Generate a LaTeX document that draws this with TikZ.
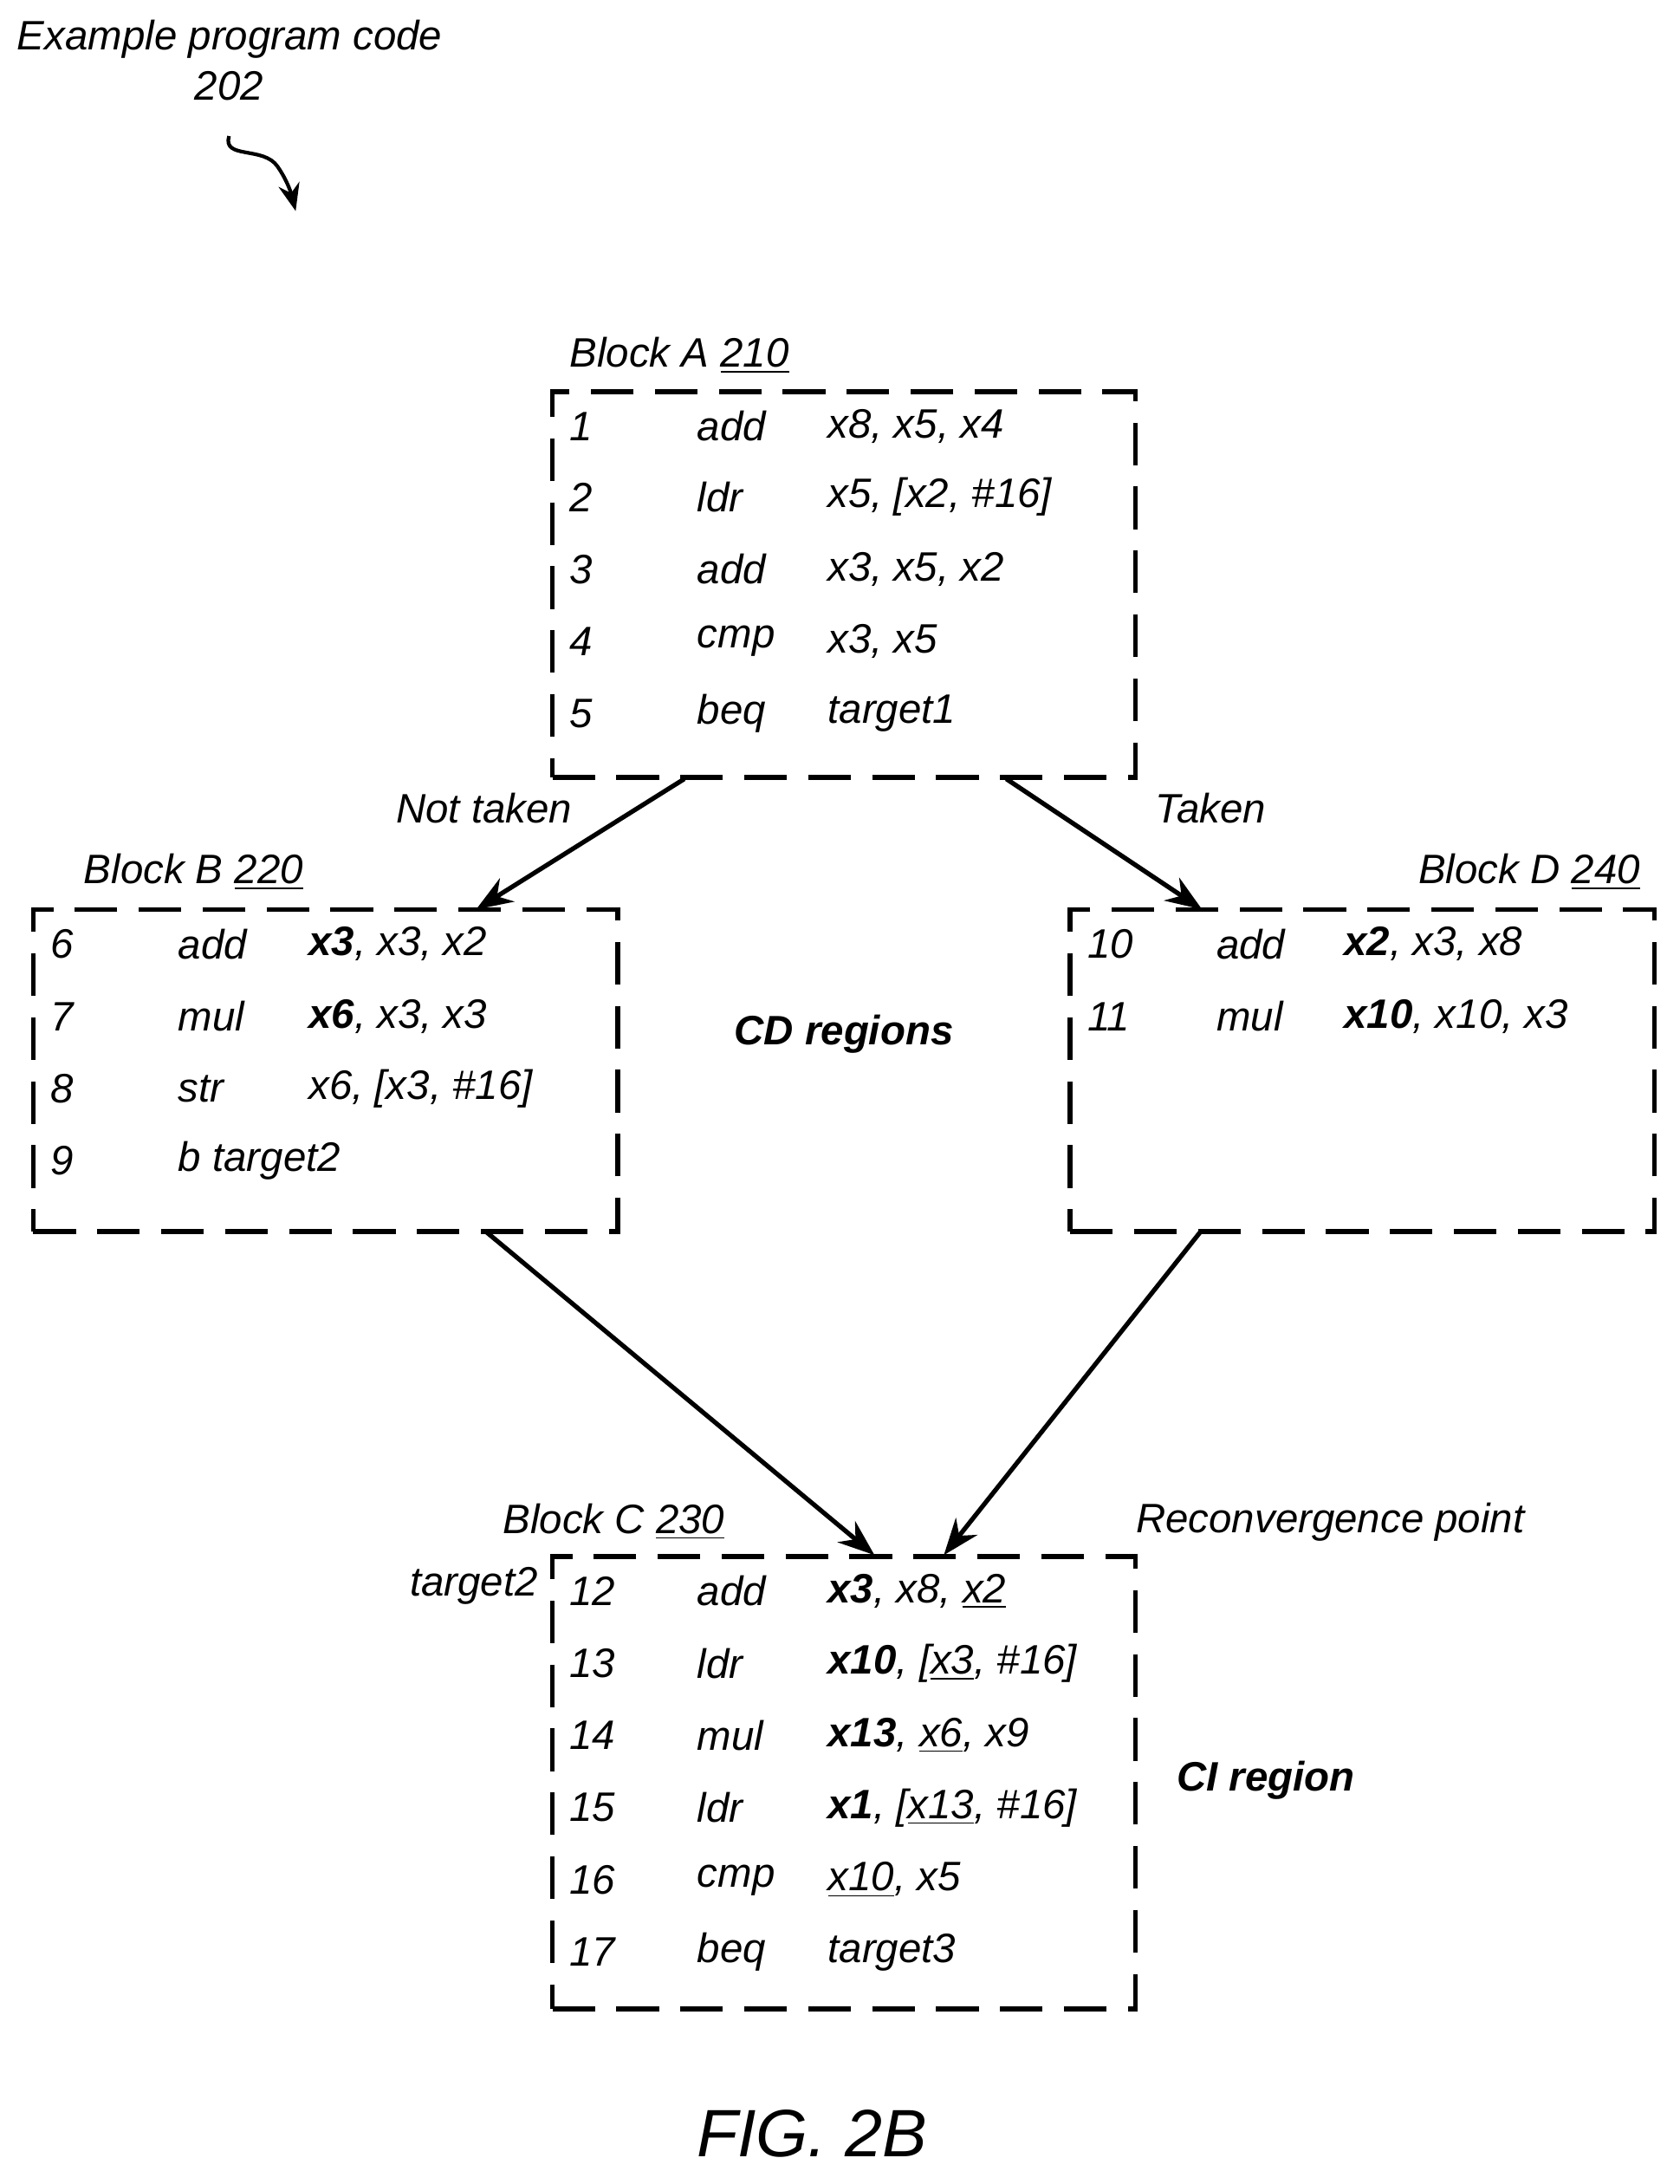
\documentclass[tikz,border=0pt]{standalone}
\usepackage{fontspec}
\setmainfont{Liberation Sans}
\usetikzlibrary{arrows.meta,decorations.pathmorphing}
\begin{document}
\begin{tikzpicture}[x=0.016017cm,y=-0.016017cm,
  t/.style={font=\fontsize{13.5}{16}\selectfont\itshape,inner sep=0pt,anchor=west},
  box/.style={draw,line width=1.6pt,dash pattern=on 14pt off 7pt},
  arr/.style={-{Stealth[length=12pt,width=9pt]},line width=1.5pt}]
\useasboundingbox (0,0) rectangle (1210,1573);
\fill[white] (0,0) rectangle (1210,1573);
% boxes
\node[box,minimum width=420*0.016017cm,minimum height=278*0.016017cm,inner sep=0pt] (A) at (608,421) {};
\node[box,minimum width=421*0.016017cm,minimum height=232*0.016017cm,inner sep=0pt] (B) at (234.5,771) {};
\node[box,minimum width=421*0.016017cm,minimum height=232*0.016017cm,inner sep=0pt] (D) at (981.5,771) {};
\node[box,minimum width=420*0.016017cm,minimum height=326*0.016017cm,inner sep=0pt] (C) at (608,1284) {};
% titles
\node[t] (tA) at (410,256) {Block A \underline{210}};
\node[t] (tB) at (60,628) {Block B \underline{220}};
\node[t,anchor=east] (tD) at (1182,628) {Block D \underline{240}};
\node[t] (tC) at (362,1096) {Block C \underline{230}};
\node[t] (rp) at (818,1096) {Reconvergence point};
\node[t,anchor=east] (t2) at (388,1142) {target2};
\node[t] (nt) at (285,582) {Not taken};
\node[t] (tk) at (832,582) {Taken};
\node[t,anchor=center] (cd) at (608,745) {\bfseries CD regions};
\node[t,anchor=center] (ci) at (912,1282) {\bfseries CI region};
\node[font=\fontsize{22}{26}\selectfont\itshape,inner sep=0pt] (fig) at (585,1537) {FIG. 2B};
\node[t] (ex) at (12,28) {Example program code};
\node[t,anchor=center] (n202) at (165,62) {202};
\coordinate (s1) at (165,98);
\coordinate (s2) at (213,152);
\draw[-{Stealth[length=9pt,width=7pt]},line width=1.2pt] (s1) .. controls (160,115) and (190,105) .. (200,120) .. controls (207,130) and (210,140) .. (s2);
% Block A
\foreach \y/\a/\b/\c in {307/1/add/{x8, x5, x4},358/2/ldr/{x5, [x2, \#16]},410/3/add/{x3, x5, x2},462/4/cmp/{x3, x5},514/5/beq/target1}{
  \node[t] at (410,\y) {\a}; \node[t] at (502,\y) {\b}; \node[t] at (596,\y) {\c};}
% Block B
\foreach \y/\a/\b/\c in {680/6/add/{\textbf{x3}, x3, x2},732/7/mul/{\textbf{x6}, x3, x3},784/8/str/{x6, [x3, \#16]}}{
  \node[t] at (36,\y) {\a}; \node[t] at (128,\y) {\b}; \node[t] at (222,\y) {\c};}
\node[t] at (36,836) {9}; \node[t] at (128,836) {b target2};
% Block D
\foreach \y/\a/\b/\c in {680/10/add/{\textbf{x2}, x3, x8},732/11/mul/{\textbf{x10}, x10, x3}}{
  \node[t] at (783,\y) {\a}; \node[t] at (876,\y) {\b}; \node[t] at (968,\y) {\c};}
% Block C
\foreach \y/\a/\b/\c in {1146/12/add/{\textbf{x3}, x8, \underline{x2}},1198/13/ldr/{\textbf{x10}, [\underline{x3}, \#16]},1250/14/mul/{\textbf{x13}, \underline{x6}, x9},1302/15/ldr/{\textbf{x1}, [\underline{x13}, \#16]},1354/16/cmp/{\underline{x10}, x5},1406/17/beq/target3}{
  \node[t] at (410,\y) {\a}; \node[t] at (502,\y) {\b}; \node[t] at (596,\y) {\c};}
% arrows
\coordinate (a1) at (493,561); \coordinate (b1) at (343,655);
\coordinate (a2) at (725,561); \coordinate (d1) at (866,655);
\coordinate (b2) at (350,887); \coordinate (c1) at (630,1120);
\coordinate (d2) at (865,887); \coordinate (c2) at (680,1120);
\draw[arr] (a1) -- (b1);
\draw[arr] (a2) -- (d1);
\draw[arr] (b2) -- (c1);
\draw[arr] (d2) -- (c2);
\end{tikzpicture}
\end{document}
